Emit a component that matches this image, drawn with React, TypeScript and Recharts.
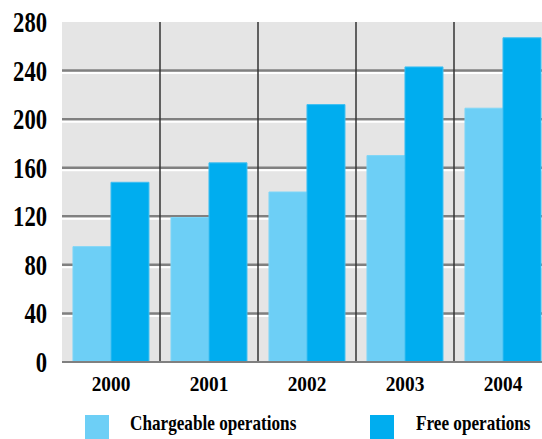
import { BarChart, Bar, XAxis, YAxis, CartesianGrid, Legend } from "recharts";

const years = ["2000", "2001", "2002", "2003", "2004"];
const chargeable = [95, 119, 140, 170, 209];
const free = [148, 164, 212, 243, 267];
const yTicks = [0, 40, 80, 120, 160, 200, 240, 280];

const data = years.map((year, i) => ({ year, chargeable: chargeable[i], free: free[i] }));

const W = 560;
const H = 439;
const margin = { top: 22, right: 8, left: 0, bottom: 0 };
const LEGEND_H = 37;
const XAXIS_H = 40;
const plotBottom = H - LEGEND_H - XAXIS_H;

const serif = "Liberation Serif";

const YTick = (props: any) => {
  const { x, y, payload } = props;
  return (
    <text
      transform={`translate(${x},${y}) scale(0.78,1)`}
      textAnchor="end"
      dy={10}
      style={{ fontFamily: serif, fontWeight: 700, fontSize: 29 }}
      fill="#000"
    >
      {payload.value}
    </text>
  );
};

const XTick = (props: any) => {
  const { x, y, payload } = props;
  return (
    <text
      transform={`translate(${x},${y}) scale(0.88,1)`}
      textAnchor="middle"
      dy={29}
      style={{ fontFamily: serif, fontWeight: 700, fontSize: 22 }}
      fill="#000"
    >
      {payload.value}
    </text>
  );
};

// gray grid line with a thin white highlight beneath it
const gridLine = (props: any) => {
  const { x1, x2, y1, key } = props;
  if (y1 <= margin.top + 1 || y1 >= plotBottom - 1) return <g key={key} />;
  return (
    <g key={key}>
      <line x1={x1} x2={x2} y1={y1} y2={y1} stroke="#808080" strokeWidth={2.5} />
      <line x1={x1} x2={x2} y1={y1 + 2.5} y2={y1 + 2.5} stroke="#ffffff" strokeWidth={2} />
    </g>
  );
};

const vLine = (props: any) => {
  const { x1, y1, y2, key } = props;
  return <line key={key} x1={x1} x2={x1} y1={y1} y2={y2} stroke="#333333" strokeWidth={1.5} />;
};

const legendItems = [
  { label: "Chargeable operations", color: "#6dcff6", box: 85, text: 130 },
  { label: "Free operations", color: "#00adef", box: 370, text: 416 },
];

const renderLegend = () => (
  <div style={{ position: "relative", height: LEGEND_H, width: 542 }}>
    {legendItems.map((it) => (
      <div key={it.label}>
        <div
          style={{
            position: "absolute",
            left: it.box,
            top: 13,
            width: 24,
            height: 24,
            background: it.color,
          }}
        />
        <span
          style={{
            position: "absolute",
            left: it.text,
            top: 8,
            fontFamily: serif,
            fontWeight: 700,
            fontSize: 22,
            lineHeight: "26px",
            whiteSpace: "nowrap",
            transform: "scaleX(0.78)",
            transformOrigin: "left center",
            color: "#000",
          }}
        >
          {it.label}
        </span>
      </div>
    ))}
  </div>
);

export default function App() {
  return (
    <div
      style={{
        position: "absolute",
        left: 0,
        top: 0,
        width: 542,
        height: 439,
        overflow: "hidden",
        background: "#fff",
      }}
    >
      <BarChart
        width={W}
        height={H}
        data={data}
        margin={margin}
        barCategoryGap="11.2%"
        barGap={0}
      >
        <CartesianGrid
          fill="#e5e5e5"
          horizontal={gridLine}
          vertical={vLine}
          verticalCoordinatesGenerator={({ offset }: any) =>
            years.slice(1).map((_, i) => offset.left + ((i + 1) * offset.width) / years.length)
          }
        />
        <XAxis
          dataKey="year"
          height={XAXIS_H}
          axisLine={{ stroke: "#808080", strokeWidth: 2 }}
          tickLine={false}
          tickSize={0}
          tickMargin={0}
          tick={<XTick />}
          interval={0}
        />
        <YAxis
          width={62}
          domain={[0, 280]}
          ticks={yTicks}
          axisLine={false}
          tickLine={false}
          tickSize={0}
          tickMargin={15}
          tick={<YTick />}
          interval={0}
        />
        <Legend verticalAlign="bottom" content={renderLegend} />
        <Bar
          dataKey="chargeable"
          name="Chargeable operations"
          fill="#6dcff6"
          stroke="#7fd6f7"
          strokeWidth={1}
          isAnimationActive={false}
        />
        <Bar
          dataKey="free"
          name="Free operations"
          fill="#00adef"
          stroke="#3fbff2"
          strokeWidth={1}
          isAnimationActive={false}
        />
      </BarChart>
    </div>
  );
}
